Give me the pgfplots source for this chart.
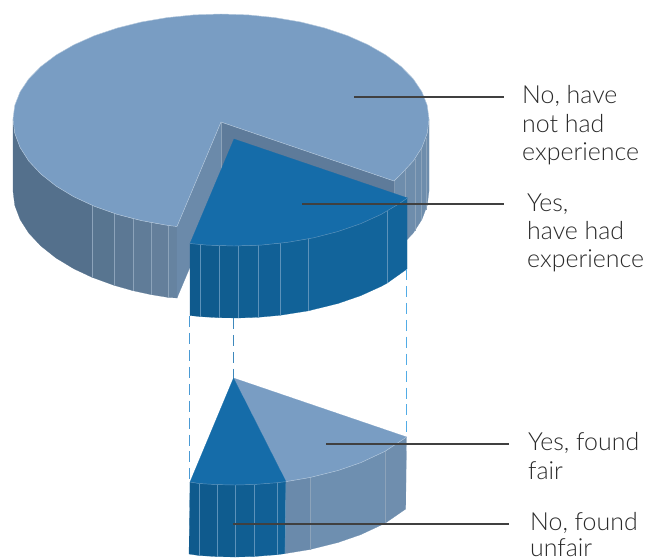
\documentclass[border=0pt]{standalone}
\usepackage{pgfplots}
\pgfplotsset{compat=1.18}
\usepackage{fontspec}
\setmainfont{Lato Light}
\definecolor{topgrey}{HTML}{799DC3}
\definecolor{topblue}{HTML}{156CA9}
\definecolor{rim}{HTML}{B4C8DC}
\definecolor{slat}{HTML}{8CA3BA}
\definecolor{slatblue}{HTML}{5C92BA}
\definecolor{wallA}{HTML}{5E7B9A}
\definecolor{wallB}{HTML}{6B8AAA}
\definecolor{leader}{HTML}{404040}
\definecolor{labeltext}{HTML}{2A2A2A}
% Shades of the outer walls, dark to light
\definecolor{g1}{HTML}{54708C}
\definecolor{g2}{HTML}{587590}
\definecolor{g3}{HTML}{5C7894}
\definecolor{g4}{HTML}{607C98}
\definecolor{g5}{HTML}{647F9B}
\definecolor{g6}{HTML}{6683A0}
\definecolor{g7}{HTML}{6E8DAC}
\definecolor{g8}{HTML}{6A8AAB}
\definecolor{g9}{HTML}{6E8FB0}
\definecolor{g10}{HTML}{6F8EAE}
\definecolor{b1}{HTML}{0F5A8D}
\definecolor{b2}{HTML}{0F5B8E}
\definecolor{b3}{HTML}{105D90}
\definecolor{b4}{HTML}{105F93}
\definecolor{b5}{HTML}{116096}
\definecolor{b6}{HTML}{116298}
\definecolor{b7}{HTML}{12649B}
\definecolor{b8}{HTML}{0F5C8F}
\definecolor{b9}{HTML}{105E92}
\definecolor{linkL}{HTML}{4A9AD4}
\definecolor{linkC}{HTML}{3E88BC}
\definecolor{linkR}{HTML}{52ACE6}
\pgfplotsset{
  face/.style={draw=#1,fill=#1,line width=0.2pt,no markers,forget plot},
  rib/.style={draw=#1,line width=0.45pt,no markers,forget plot},
  lead/.style={draw=leader,line width=1.1pt,no markers,forget plot},
  link/.style={draw=#1,line width=1.2pt,dash pattern=on 11pt off 6pt,no markers,forget plot},
}
\newcommand{\lab}[3]{\node[anchor=base west,inner sep=0pt,text=labeltext,font=\fontsize{25}{29}\selectfont] at (axis cs:#1,#2) {#3};}
\begin{document}
\begin{tikzpicture}
\useasboundingbox (0,0) rectangle (645bp,558bp);
\begin{axis}[
  width=645bp,height=558bp,scale only axis,
  xmin=0,xmax=645,ymin=0,ymax=558,y dir=reverse,
  axis lines=none,clip=false,
]
% Outer wall of the large pie, left part
\addplot[face=g1] coordinates {(13,119)(14.8,133.4)(20.1,147.5)(28.8,161.1)(40.9,174)(56,186)(73.9,196.8)(92,205.3)(92,277.3)(73.9,268.8)(56,258)(40.9,246)(28.8,233.1)(20.1,219.5)(14.8,205.4)(13,191)} -- cycle;
\addplot[face=g2] coordinates {(92,205.3)(114,213.3)(114,285.3)(92,277.3)} -- cycle;
\addplot[face=g3] coordinates {(114,213.3)(133,218.7)(133,290.7)(114,285.3)} -- cycle;
\addplot[face=g4] coordinates {(133,218.7)(151,222.6)(151,294.6)(133,290.7)} -- cycle;
\addplot[face=g5] coordinates {(151,222.6)(168,225.4)(168,297.4)(151,294.6)} -- cycle;
\addplot[face=g6] coordinates {(168,225.4)(177,226.5)(177,298)(168,297.4)} -- cycle;
\addplot[rib=slat] coordinates {(92,205.3)(92,277.3)};
\addplot[rib=slat] coordinates {(114,213.3)(114,285.3)};
\addplot[rib=slat] coordinates {(133,218.7)(133,290.7)};
\addplot[rib=slat] coordinates {(151,222.6)(151,294.6)};
\addplot[rib=slat] coordinates {(168,225.4)(168,297.4)};
% Outer wall of the large pie, right part
\addplot[face=g7] coordinates {(394,181)(401.1,174)(413.2,161.1)(421.9,147.5)(427.2,133.4)(429,119)(429,191)(427.2,205.4)(421.9,219.5)(413.2,233.1)(401.1,246)(394,253)} -- cycle;
\addplot[rib=slat] coordinates {(394,181)(394,253)};
\addplot[rib=slat] coordinates {(405.7,169.6)(405.7,241.6)};
\addplot[rib=slat] coordinates {(415,158.7)(415,230.7)};
\addplot[rib=slat] coordinates {(421.7,147.9)(421.7,219.9)};
\addplot[rib=slat] coordinates {(426,137.6)(426,209.6)};
% Walls of the cut-out
\addplot[face=wallA] coordinates {(221,122)(394,181)(394,253)(221,194)} -- cycle;
\addplot[face=wallB] coordinates {(221,122)(177,226.5)(177,298)(221,194)} -- cycle;
\addplot[rib=slat] coordinates {(221,122)(221,170)};
% Top of the large pie
\addplot[draw=rim,fill=topgrey,line width=0.45pt,no markers,forget plot] coordinates {(221,122)(394,181)(401.1,174)(413.2,161.1)(421.9,147.5)(427.2,133.4)(429,119)(427.2,105.3)(421.9,91.8)(413.2,78.8)(401.1,66.5)(386,55.1)(368.1,44.8)(347.6,35.7)(325,28.1)(300.6,22)(274.8,17.6)(248.1,14.9)(221,14)(193.9,14.9)(167.2,17.6)(141.4,22)(117,28.1)(94.4,35.7)(73.9,44.8)(56,55.1)(40.9,66.5)(28.8,78.8)(20.1,91.8)(14.8,105.3)(13,119)(14.8,133.4)(20.1,147.5)(28.8,161.1)(40.9,174)(56,186)(73.9,196.8)(94.4,206.3)(117,214.3)(141.4,220.6)(167.2,225.3)(177,226.5)} -- cycle;
% Side of the pulled-out slice
\addplot[face=b1] coordinates {(190,243.5)(200,244.6)(200,316.6)(190,315.5)} -- cycle;
\addplot[face=b2] coordinates {(200,244.6)(219,245.7)(219,317.7)(200,316.6)} -- cycle;
\addplot[face=b3] coordinates {(219,245.7)(238,246)(238,318)(219,317.7)} -- cycle;
\addplot[face=b4] coordinates {(238,246)(258,245.3)(258,317.3)(238,318)} -- cycle;
\addplot[face=b5] coordinates {(258,245.3)(280,243.3)(280,315.3)(258,317.3)} -- cycle;
\addplot[face=b6] coordinates {(280,243.3)(308,238.9)(308,310.9)(280,315.3)} -- cycle;
\addplot[face=b7] coordinates {(308,238.9)(338,231.5)(360.6,223.7)(381.1,214.4)(387,211.2)(387,283.2)(381.1,286.4)(360.6,295.7)(338,303.5)(308,310.9)} -- cycle;
\addplot[face=b7] coordinates {(387,211.2)(407,198)(407,269)(387,283.2)} -- cycle;
\addplot[rib=slatblue] coordinates {(200,244.6)(200,316.6)};
\addplot[rib=slatblue] coordinates {(219,245.7)(219,317.7)};
\addplot[rib=slatblue] coordinates {(238,246)(238,318)};
\addplot[rib=slatblue] coordinates {(258,245.3)(258,317.3)};
\addplot[rib=slatblue] coordinates {(280,243.3)(280,315.3)};
\addplot[rib=slatblue] coordinates {(308,238.9)(308,310.9)};
\addplot[rib=slatblue] coordinates {(387,211.2)(387,283.2)};
% Top of the pulled-out slice
\addplot[face=topblue] coordinates {(234,139)(407.5,198)(399,203.8)(381.1,214.4)(360.6,223.7)(338,231.5)(313.6,237.8)(287.8,242.3)(261.1,245.1)(234,246)(207,245.1)(190,243.5)} -- cycle;
\addplot[rib=slatblue] coordinates {(407.5,198)(399,203.8)(381.1,214.4)(360.6,223.7)(338,231.5)(313.6,237.8)(287.8,242.3)(261.1,245.1)(234,246)(207,245.1)(190,243.5)};
% Links between the two pies
\addplot[link=linkL] coordinates {(189.7,316)(189.7,482)};
\addplot[link=linkC] coordinates {(233.3,318)(233.3,378)};
\addplot[link=linkR] coordinates {(406.7,269)(406.7,437)};
% Side of the small pie
\addplot[face=b1] coordinates {(190,482)(199,483.5)(199,555.5)(189,554)} -- cycle;
\addplot[face=b1] coordinates {(199,483.5)(217,484.6)(217,556.6)(199,555.5)} -- cycle;
\addplot[face=b8] coordinates {(217,484.6)(235,485)(235,557)(217,556.6)} -- cycle;
\addplot[face=b9] coordinates {(235,485)(254,484.5)(254,556.5)(235,557)} -- cycle;
\addplot[face=b5] coordinates {(254,484.5)(277,482.7)(277,554.7)(254,556.5)} -- cycle;
\addplot[face=b6] coordinates {(277,482.7)(286,481.6)(285,553.6)(277,554.7)} -- cycle;
\addplot[face=g8] coordinates {(286,481.6)(310,477.5)(310,549.5)(285,553.6)} -- cycle;
\addplot[face=g9] coordinates {(310,477.5)(338,470.5)(360.6,462.7)(385,451.3)(385,523.3)(360.6,534.7)(338,542.5)(310,549.5)} -- cycle;
\addplot[face=g10] coordinates {(385,451.3)(406.5,437)(405.7,509)(385,523.3)} -- cycle;
\addplot[rib=slatblue] coordinates {(199,483.5)(199,555.5)};
\addplot[rib=slatblue] coordinates {(217,484.6)(217,556.6)};
\addplot[rib=slatblue] coordinates {(235,485)(235,557)};
\addplot[rib=slatblue] coordinates {(254,484.5)(254,556.5)};
\addplot[rib=slatblue] coordinates {(277,482.7)(277,554.7)};
\addplot[rib=slatblue] coordinates {(286,481.6)(285,553.6)};
\addplot[rib=slat] coordinates {(310,477.5)(310,549.5)};
\addplot[rib=slat] coordinates {(385,451.3)(385,523.3)};
% Top of the small pie
\addplot[face=topgrey] coordinates {(233.5,378)(406.7,437)(385,451.3)(360.6,462.7)(338,470.5)(310,477.5)(286,481.6)} -- cycle;
\addplot[face=topblue] coordinates {(233.5,378)(286,481.6)(277,482.7)(254,484.5)(235,485)(217,484.6)(199,483.5)(190,482)} -- cycle;
\addplot[rib=rim] coordinates {(406.7,437)(385,451.3)(360.6,462.7)(338,470.5)(310,477.5)(286,481.6)};
\addplot[rib=slatblue] coordinates {(286,481.6)(277,482.7)(254,484.5)(235,485)(217,484.6)(199,483.5)(190,482)};
% Leader lines
\addplot[lead] coordinates {(354,97)(504,97)};
\addplot[lead] coordinates {(302,204)(504,204)};
\addplot[lead] coordinates {(326,444)(509,444)};
\addplot[lead] coordinates {(233,524)(509,524)};
% Labels
\lab{522}{103}{No, have}
\lab{522}{132}{not had}
\lab{522}{160}{experience}
\lab{527}{211.5}{Yes,}
\lab{527}{239}{have had}
\lab{527}{267}{experience}
\lab{528}{450.5}{Yes, found}
\lab{528}{479}{fair}
\lab{530}{530}{No, found}
\lab{530}{556}{unfair}
\end{axis}
\end{tikzpicture}
\end{document}
